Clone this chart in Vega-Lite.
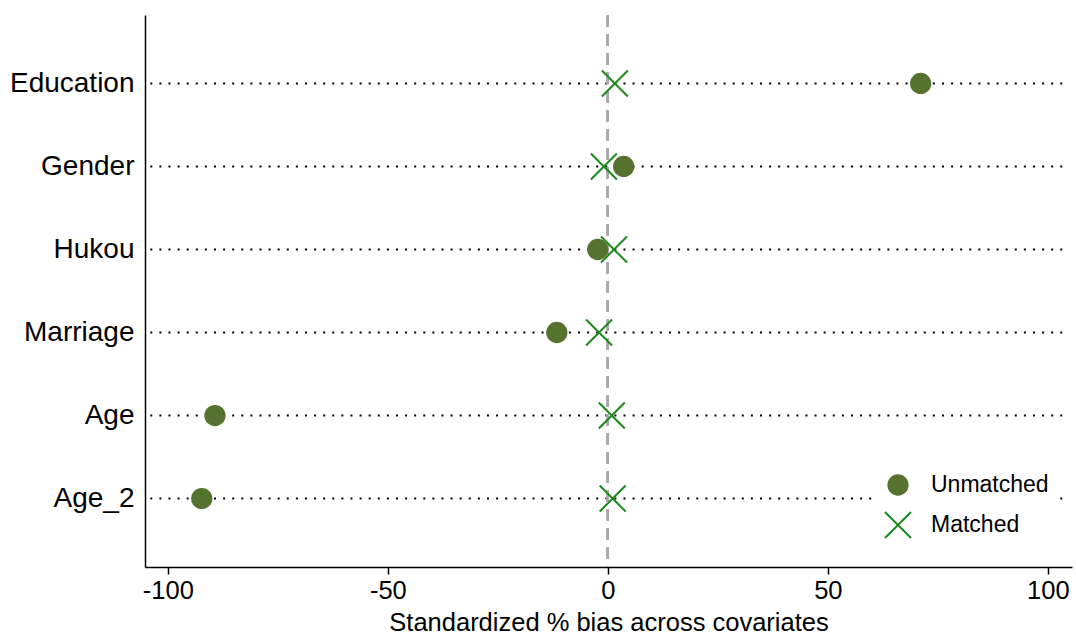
{
  "$schema": "https://vega.github.io/schema/vega-lite/v6.json",
  "width": 927,
  "height": 552,
  "autosize": {"type": "none"},
  "padding": {"left": 145, "top": 15, "right": 4, "bottom": 70},
  "background": "white",
  "config": {
    "view": {"stroke": null},
    "font": "Liberation Sans",
    "axis": {"grid": false, "domainColor": "black", "labelColor": "black", "titleColor": "black", "labelFont": "Liberation Sans", "titleFont": "Liberation Sans", "titleFontWeight": "normal"},
    "legend": {"labelFont": "Liberation Sans", "labelColor": "black"}
  },
  "data": {
    "values": [
      {"covariate": "Education", "sample": "Matched", "bias": 1.6},
      {"covariate": "Gender", "sample": "Matched", "bias": -0.9},
      {"covariate": "Hukou", "sample": "Matched", "bias": 1.4},
      {"covariate": "Marriage", "sample": "Matched", "bias": -2.0},
      {"covariate": "Age", "sample": "Matched", "bias": 0.9},
      {"covariate": "Age_2", "sample": "Matched", "bias": 1.1},
      {"covariate": "Education", "sample": "Unmatched", "bias": 71.1},
      {"covariate": "Gender", "sample": "Unmatched", "bias": 3.6},
      {"covariate": "Hukou", "sample": "Unmatched", "bias": -2.3},
      {"covariate": "Marriage", "sample": "Unmatched", "bias": -11.6},
      {"covariate": "Age", "sample": "Unmatched", "bias": -89.3},
      {"covariate": "Age_2", "sample": "Unmatched", "bias": -92.3}
    ]
  },
  "layer": [
    {
      "transform": [{"filter": "datum.sample === 'Matched'"}],
      "mark": {"type": "rule", "color": "black", "strokeWidth": 2, "strokeDash": [2, 7.1]},
      "encoding": {
        "y": {
          "field": "covariate", "type": "nominal",
          "sort": ["Education", "Gender", "Hukou", "Marriage", "Age", "Age_2"],
          "scale": {"type": "point", "padding": 0.825},
          "axis": {"title": null, "ticks": false, "tickSize": 0, "labelFontSize": 28, "labelPadding": 11, "domainWidth": 1.5, "domainColor": "black"}
        },
        "x": {"datum": -104, "type": "quantitative"},
        "x2": {"datum": 104}
      }
    },
    {
      "mark": {"type": "rule", "color": "#a8a8a8", "strokeWidth": 2, "strokeDash": [12, 7]},
      "encoding": {"x": {"datum": 0, "type": "quantitative"}}
    },
    {
      "mark": {"type": "point", "strokeWidth": 2, "opacity": 1},
      "encoding": {
        "y": {
          "field": "covariate", "type": "nominal",
          "sort": ["Education", "Gender", "Hukou", "Marriage", "Age", "Age_2"]
        },
        "x": {
          "field": "bias", "type": "quantitative",
          "scale": {"domain": [-105.2, 105.5], "nice": false, "zero": false},
          "axis": {"title": "Standardized % bias across covariates", "values": [-100, -50, 0, 50, 100], "labelExpr": "'' + datum.value", "tickSize": 7, "tickWidth": 1.5, "tickColor": "black", "labelFontSize": 25.5, "labelPadding": 4, "labelFlush": false, "titleFontSize": 25.5, "titlePadding": 7, "domainWidth": 1.5}
        },
        "fill": {
          "field": "sample", "type": "nominal", "title": null,
          "scale": {"domain": ["Unmatched", "Matched"], "range": ["#55722e", "transparent"]},
          "legend": {"orient": "none", "legendX": 729, "legendY": 448, "fillColor": "white", "padding": 10, "labelFontSize": 23, "labelOffset": 19, "rowPadding": 8, "symbolStrokeWidth": 2, "symbolOpacity": 1}
        },
        "stroke": {
          "field": "sample", "type": "nominal", "title": null,
          "scale": {"domain": ["Unmatched", "Matched"], "range": ["transparent", "#1b8a1b"]}
        },
        "shape": {
          "field": "sample", "type": "nominal", "title": null,
          "scale": {"domain": ["Unmatched", "Matched"], "range": ["circle", "M-1,-1L1,1M-1,1L1,-1"]}
        },
        "size": {
          "field": "sample", "type": "nominal", "title": null,
          "scale": {"domain": ["Unmatched", "Matched"], "range": [452, 676]}
        }
      }
    }
  ]
}
